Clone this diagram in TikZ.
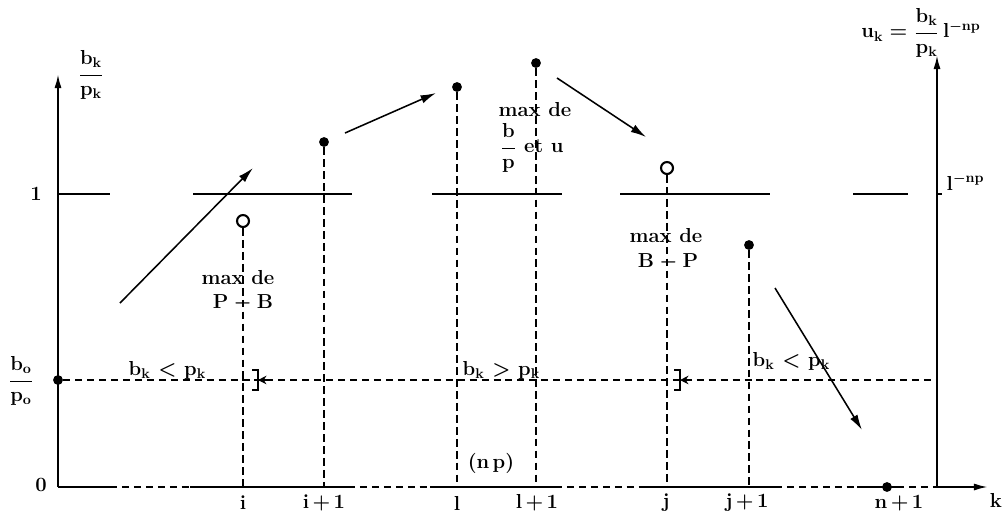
\documentclass[tikz,border=0pt]{standalone}
\usepackage{amsmath}
\usepackage{xcolor}
\usepackage{tikz}
\usetikzlibrary{arrows.meta, positioning, calc}

\begin{document}
\begin{tikzpicture}[
      x=0.025cm, y=-0.025cm,
      every node/.style={font=\Large\bfseries\boldmath, inner sep=1pt},
      fdot/.style={circle, fill, inner sep=0pt, minimum size=7pt},
      odot/.style={circle, draw, line width=1.5pt, fill=white, inner sep=0pt, minimum size=8.5pt},
      axis/.style={line width=1.4pt},
      unitline/.style={line width=1.3pt},
      vline/.style={line width=1pt, dash pattern=on 5.5pt off 3pt},
      hline/.style={line width=1pt, dash pattern=on 5pt off 3.5pt},
      move/.style={line width=1.1pt, -{Latex[length=11pt, width=6pt]}}
    ]
      \useasboundingbox (0,0) rectangle (1008,516);

      % axes
      \coordinate (O) at (58,487);
      \coordinate (Ytop) at (58,74);
      \coordinate (R0) at (937,487);
      \coordinate (Rtop) at (937,55);
      \coordinate (Kend) at (988,487);
      \draw[axis, -{Latex[length=10pt, width=5pt]}] (O) -- (Ytop);
      \draw[axis, -{Latex[length=10pt, width=5pt]}] (R0) -- (Rtop);
      \draw[axis, -{Latex[length=10pt, width=5pt]}] (R0) -- (Kend);
      \foreach \a/\b in {58/110, 190/348, 430/555, 643/775, 857/897}
        \draw[axis] (\a,487) -- (\b,487);
      \foreach \a/\b in {110/190, 348/430, 555/643, 775/857, 897/937}
        \draw[hline] (\a,487) -- (\b,487);
      \foreach \a/\b in {58/110, 193/352, 432/562, 620/770, 853/908}
        \draw[unitline] (\a,194) -- (\b,194);
      \draw[axis] (937,194) -- (942,194);

      \node (ylab) at (91,75) {$\dfrac{\mathbf{b_k}}{\mathbf{p_k}}$};
      \node (ulab) at (921,33) {$\mathbf{u_k} = \dfrac{\mathbf{b_k}}{\mathbf{p_k}}\,\mathbf{l}^{\mathbf{-np}}$};
      \node (one) at (36,194) {1};
      \node (zero) at (41,485) {0};
      \node[anchor=west] (lnp) at (945,182) {$\mathbf{l}^{\mathbf{-np}}$};
      \node (b0lab) at (21,381) {$\dfrac{\mathbf{b_o}}{\mathbf{p_o}}$};
      \node (kl) at (996,500) {k};
      \node (np) at (491,463) {(n\,p)};

      % points
      \node[fdot] (b0) at (58,380) {};
      \node[odot] (ci) at (243,221) {};
      \node[fdot] (di1) at (324,142) {};
      \node[fdot] (dl) at (457,87) {};
      \node[fdot] (dl1) at (536,63) {};
      \node[odot] (cj) at (667,168) {};
      \node[fdot] (dj1) at (749,245) {};
      \node[fdot] (dn1) at (887,487) {};

      \foreach \x/\t/\n in {243/i/ki, 324/i\,+\,1/ki1, 457/l/kl0, 537/l\,+\,1/kl1,
                            666/j/kj, 747/j\,+\,1/kj1, 899/n\,+\,1/kn1}
        \node (\n) at (\x,503) {\t};

      \foreach \p in {ci, di1, dl, dl1, cj, dj1}
        \draw[vline] (\p) -- (\p |- O);

      \coordinate (h1) at (937,380);
      \draw[hline] (b0) -- (h1);

      % brackets
      \draw[line width=1pt] (252,370) -- (258,370) -- (258,390) -- (252,390);
      \draw[line width=0.8pt, -{Stealth[length=6pt, width=6pt]}] (270,380) -- (258,380);
      \draw[line width=1pt] (674,370) -- (680,370) -- (680,390) -- (674,390);
      \draw[line width=0.8pt, -{Stealth[length=6pt, width=6pt]}] (692,380) -- (680,380);

      \node[anchor=base west] (r1) at (127,375) {$\mathbf{b_k}\mskip6mu{<}\mskip6mu\mathbf{p_k}$};
      \node[anchor=base west] (r2) at (461,375) {$\mathbf{b_k}\mskip6mu{>}\mskip6mu\mathbf{p_k}$};
      \node[anchor=base west] (r3) at (751,366) {$\mathbf{b_k}\mskip6mu{<}\mskip6mu\mathbf{p_k}$};

      \node (mi) at (238,278) {max de};
      \node (mi2) at (243,303) {$\mathbf{P} - \mathbf{B}$};
      \node (ml) at (535,110) {max de};
      \node (ml2) at (532,148) {$\dfrac{\mathbf{b}}{\mathbf{p}}$ et u};
      \node (mj) at (666,236) {max de};
      \node (mj2) at (668,262) {$\mathbf{B} - \mathbf{P}$};

      % moves
      \coordinate (a1s) at (120,303);
      \coordinate (a1e) at (253,168);
      \coordinate (a2s) at (345,133);
      \coordinate (a2e) at (436,93);
      \coordinate (a3s) at (557,78);
      \coordinate (a3e) at (646,137);
      \coordinate (a4s) at (775,288);
      \coordinate (a4e) at (862,430);
      \draw[move] (a1s) -- (a1e);
      \draw[move] (a2s) -- (a2e);
      \draw[move] (a3s) -- (a3e);
      \draw[move] (a4s) -- (a4e);
    \end{tikzpicture}
\end{document}
